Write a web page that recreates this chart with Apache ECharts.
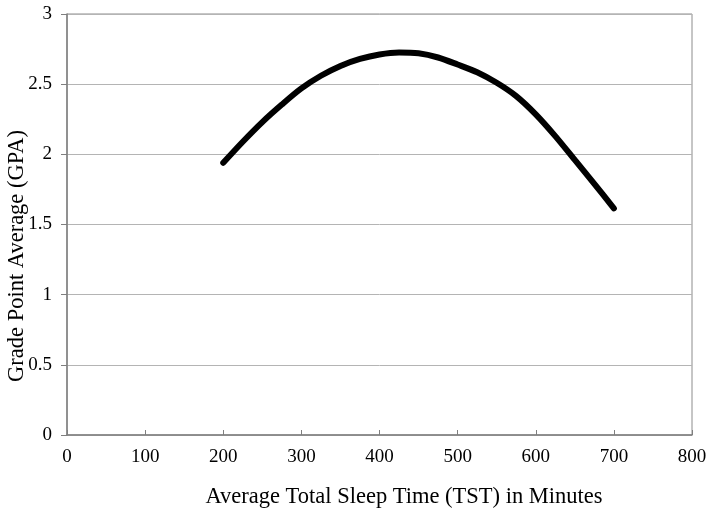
<!DOCTYPE html>
<html><head><meta charset="utf-8">
<script src="https://cdn.jsdelivr.net/npm/echarts@6/dist/echarts.min.js"></script>
<style>html,body{margin:0;padding:0;background:#fff}#c{width:714px;height:516px}</style>
</head><body><div id="c"></div>
<script>
const sleepMinutes = [200, 225, 250, 275, 300, 325, 350, 375, 400, 425, 450, 475, 500, 525, 550, 575, 600, 625, 650, 675, 700];
const gpaValues = [1.94, 2.09, 2.23, 2.355, 2.47, 2.56, 2.63, 2.68, 2.712, 2.726, 2.72, 2.69, 2.64, 2.585, 2.51, 2.415, 2.285, 2.13, 1.96, 1.79, 1.615];
const xAxisTitle = 'Average Total Sleep Time (TST) in Minutes';
const yAxisTitle = 'Grade Point Average (GPA)';

const chart = echarts.init(document.getElementById('c'), null, {renderer: 'canvas'});
const font = 'Liberation Serif';
chart.setOption({
  animation: false,
  backgroundColor: '#fff',
  grid: {left: 67, right: 22, top: 14, bottom: 81, containLabel: false, outerBoundsMode: 'none',
         show: true, borderColor: '#8c8c8c', borderWidth: 1},
  graphic: [
    {type: 'text', x: 404, y: 497, silent: true,
     style: {text: xAxisTitle, fontFamily: font, fontSize: 22.5, fill: '#000', align: 'center', verticalAlign: 'middle'}},
    {type: 'text', x: 17, y: 256, rotation: Math.PI / 2, silent: true,
     style: {text: yAxisTitle, fontFamily: font, fontSize: 22.5, fill: '#000', align: 'center', verticalAlign: 'middle'}}
  ],
  xAxis: {
    type: 'value', min: 0, max: 800, interval: 100,
    axisLine: {show: true, lineStyle: {color: '#7f7f7f', width: 1.5}},
    axisTick: {show: true, length: 5, inside: true, lineStyle: {color: '#7f7f7f'}},
    axisLabel: {fontFamily: font, fontSize: 19, color: '#000', margin: 13},
    splitLine: {show: false}
  },
  yAxis: {
    type: 'value', min: 0, max: 3, interval: 0.5,
    axisLine: {show: true, lineStyle: {color: '#7f7f7f', width: 1.5}},
    axisTick: {show: true, length: 6, lineStyle: {color: '#7f7f7f'}},
    axisLabel: {fontFamily: font, fontSize: 19, color: '#000', margin: 15},
    splitLine: {show: true, lineStyle: {color: '#b4b4b4', width: 1}}
  },
  series: [{
    type: 'line',
    data: sleepMinutes.map((m, i) => [m, gpaValues[i]]),
    smooth: 0.3,
    showSymbol: false,
    lineStyle: {color: '#000', width: 6, cap: 'round'}
  }]
});
</script></body></html>
